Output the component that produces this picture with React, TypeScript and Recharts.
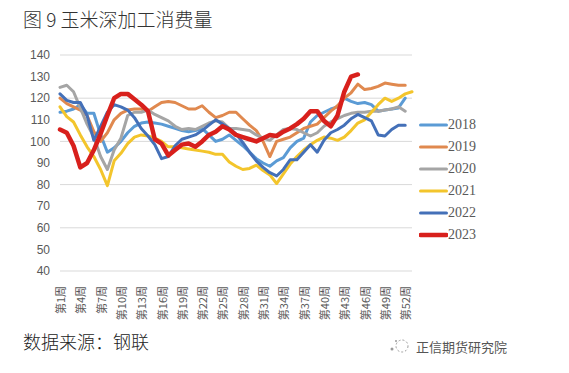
import React from "react";
import { LineChart, Line, XAxis, YAxis, CartesianGrid } from "recharts";

const weeks = [
  "第1周","第2周","第3周","第4周","第5周","第6周","第7周","第8周","第9周","第10周",
  "第11周","第12周","第13周","第14周","第15周","第16周","第17周","第18周","第19周","第20周",
  "第21周","第22周","第23周","第24周","第25周","第26周","第27周","第28周","第29周","第30周",
  "第31周","第32周","第33周","第34周","第35周","第36周","第37周","第38周","第39周","第40周",
  "第41周","第42周","第43周","第44周","第45周","第46周","第47周","第48周","第49周","第50周",
  "第51周","第52周","第53周",
];

const yTicks = [40, 50, 60, 70, 80, 90, 100, 110, 120, 130, 140];

const s2018 = [113.5,114,115,117,113,113,103,95,97,100,104,107,108.5,109,108.5,108,107,106,105,104.5,105,106,103,100,101,103,100.5,98,95,92,90,88.5,91,92.5,97,100,101.5,109,112,113.5,115,116,120,118.5,117.5,118,117,114,114.5,115,115.5,120,null];
const s2019 = [120,117.5,116,114.5,112,104.5,100,104,110,113,114.5,115,115,114,116,118,118.5,118,116.5,115,115,116.5,113.5,111,112,113.5,113.5,110.5,107.5,105,100,93,100,101,102,104,106,107,108,111,114,116.5,120,122.5,126.5,124,124.5,125.5,127,126.5,126,126,null];
const s2020 = [125,126,123,115.5,108,102,93,87,96,101.5,112,113.5,113.5,114.5,112.5,111,109.5,107,105.5,106,105.5,107,108.5,109.5,109,106,106,105.5,105,103,101.5,100.5,103,105.5,106,105.5,104,102.5,104,107,109,110.5,112,113,113.5,113.5,114,114,114.5,115,116,114,null];
const s2021 = [116,111.5,109,103,97.5,93,87,79.5,91,94.5,99,102,103,102.5,101.5,100,97.5,97.5,97,96.5,96,95.5,95,94,94,90.5,88.5,87,87.5,89,86.5,84.5,80.5,85,89.5,93,96,98.5,100.5,102,101.5,100.5,102,105,108.5,110,113.5,117,120,118.5,120,122,123];
const s2022 = [122,119,118,118,112,100.5,107,113.5,117,116,114.5,111,106,102.5,98.5,92,93,98,101,102,103,105,107.5,110,108,106,103.5,99.5,95,91,88,85.5,84,87,91.5,91.5,95,98.5,95,100.5,104,105.5,107.5,110.5,112.5,111,109.5,103,102.5,105.5,107.5,107.5,null];
const s2023 = [105.5,104,98,88,90,96,103.5,112,120,122,122,119.5,117,114,101,99,93.5,96,98.5,99,97.5,100,103,104.5,107,105.5,103,102,101,100,101.5,103,102.5,104.5,106,108,110.5,114,114,109.5,107,112,123,130,131,null,null,null,null,null,null,null,null];

const seriesNames = ["2018", "2019", "2020", "2021", "2022", "2023"];
const seriesValues = [s2018, s2019, s2020, s2021, s2022, s2023];
const seriesColors = ["#5b9bd5", "#e0894f", "#a5a5a5", "#f3c52c", "#4470b8", "#d8201c"];
const seriesWidths = [3, 3, 3, 3, 3, 4.5];

const data = weeks.map((w, i) => {
  const row: Record<string, any> = { week: w };
  seriesNames.forEach((n, k) => {
    row[n] = seriesValues[k][i];
  });
  return row;
});

const XTick = (props: any) => {
  const { x, y, payload } = props;
  const ty = y + 7;
  return (
    <text
      x={x}
      y={ty}
      transform={`rotate(-90, ${x}, ${ty})`}
      textAnchor="end"
      dominantBaseline="central"
      fontSize={11}
      fill="#595959"
      fontFamily="'Noto Sans CJK SC', sans-serif"
    >
      {payload.value}
    </text>
  );
};

const LegendBox = () => (
  <div style={{ position: "absolute", left: 419, top: 114, display: "flex", flexDirection: "column" }}>
    {seriesNames.map((n, k) => (
      <div key={n} style={{ display: "flex", alignItems: "center", height: 22 }}>
        <svg width={29} height={10}>
          <line x1={1.5} y1={5} x2={27.5} y2={5} stroke={seriesColors[k]} strokeWidth={seriesWidths[k]} strokeLinecap="round" />
        </svg>
        <span style={{ fontFamily: "'Liberation Serif', serif", fontSize: 14, color: "#595959", lineHeight: "22px" }}>{n}</span>
      </div>
    ))}
  </div>
);

export default function App() {
  return (
    <div style={{ position: "absolute", left: 0, top: 0, width: 569, height: 373, background: "#fff", overflow: "hidden" }}>
      <div style={{ position: "absolute", left: 23, top: 5, fontSize: 19, color: "#333", fontWeight: 300, fontFamily: "'Noto Sans CJK SC', sans-serif", whiteSpace: "nowrap" }}>
        图 9 玉米深加工消费量
      </div>
      <LineChart
        width={569}
        height={373}
        data={data}
        margin={{ top: 55, right: 157, bottom: 72, left: 0 }}
      >
        <CartesianGrid vertical={false} stroke="#d9d9d9" strokeWidth={1} />
        <XAxis
          dataKey="week"
          interval={2}
          axisLine={false}
          tickLine={false}
          tick={<XTick />}
          height={30}
        />
        <YAxis
          domain={[40, 140]}
          ticks={yTicks}
          width={60}
          axisLine={false}
          tickLine={false}
          tickMargin={4}
          tick={{ fontSize: 12, fill: "#595959", fontFamily: "'Liberation Sans', sans-serif" }}
        />
        {seriesNames.map((n, k) => (
          <Line
            key={n}
            type="linear"
            dataKey={n}
            stroke={seriesColors[k]}
            strokeWidth={seriesWidths[k]}
            dot={false}
            activeDot={false}
            isAnimationActive={false}
            strokeLinejoin="round"
            strokeLinecap="round"
          />
        ))}
      </LineChart>
      <LegendBox />
      <div style={{ position: "absolute", left: 23, top: 328, fontSize: 18, color: "#222", fontWeight: 300, fontFamily: "'Noto Sans CJK SC', sans-serif", whiteSpace: "nowrap" }}>
        数据来源：钢联
      </div>
      <svg style={{ position: "absolute", left: 388, top: 337 }} width={24} height={18}>
        <circle cx={14} cy={9} r={6} fill="none" stroke="#9a9a9a" strokeWidth={1} strokeDasharray="2 2" />
        <circle cx={4} cy={12} r={1.5} fill="#9a9a9a" />
        <circle cx={8} cy={4} r={1} fill="#9a9a9a" />
      </svg>
      <div style={{ position: "absolute", left: 416, top: 337, fontSize: 13, color: "#555", fontFamily: "'Noto Sans CJK SC', sans-serif", whiteSpace: "nowrap" }}>
        正信期货研究院
      </div>
    </div>
  );
}
